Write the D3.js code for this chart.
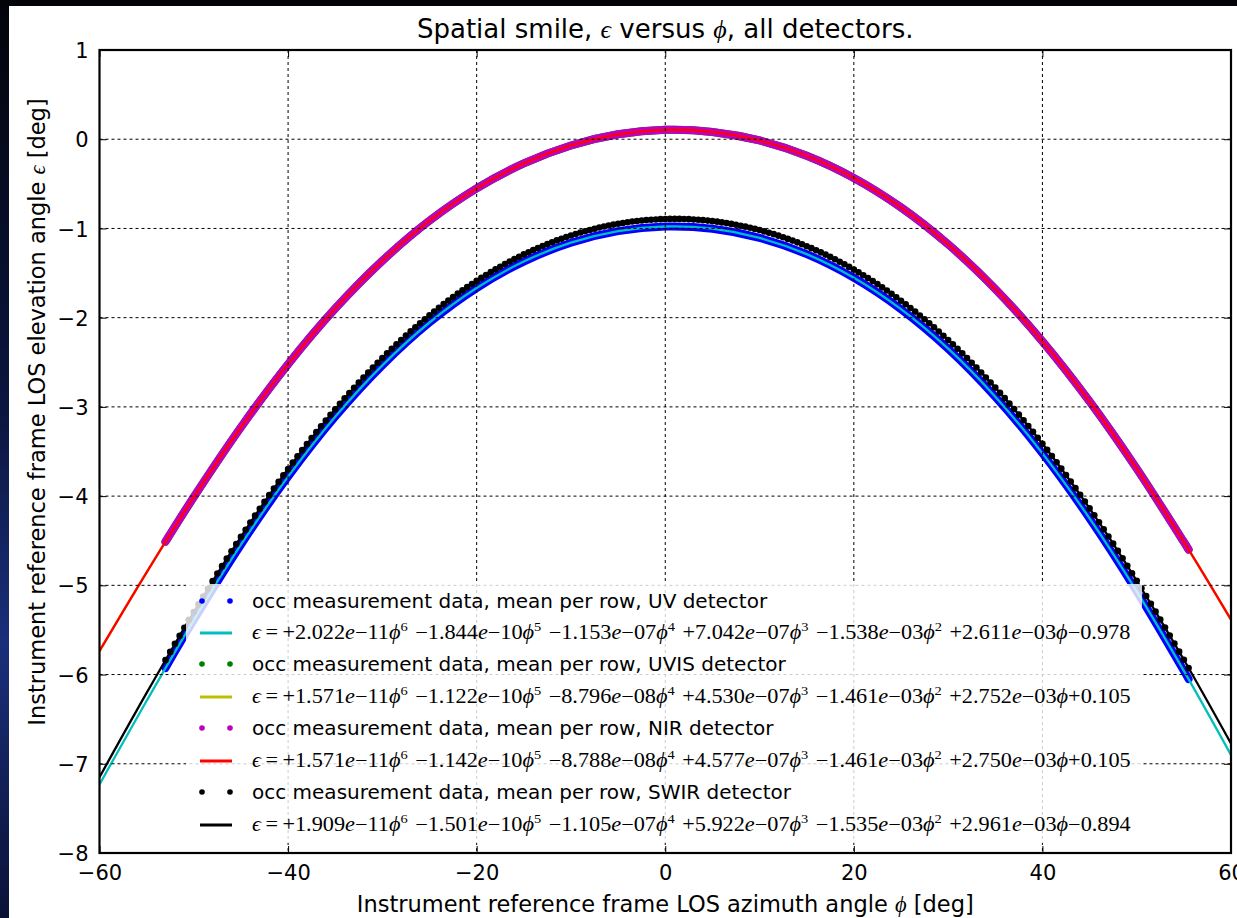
<!DOCTYPE html>
<html><head><meta charset="utf-8">
<script src="https://cdn.jsdelivr.net/npm/d3@7"></script>
<style>body{margin:0;background:#000}svg{display:block}</style>
</head><body>
<svg id="chart" width="1237" height="918"></svg>
<script>
// ---------------- data ----------------
const fitPhi = [-60,-55,-50,-45,-40,-35,-30,-25,-20,-15,-10,-5,0,5,10,15,20,25,30,35,40,45,50,55,60];
const uvFit   = [-7.231,-6.294,-5.389,-4.545,-3.782,-3.110,-2.534,-2.054,-1.668,-1.371,-1.160,-1.030,-0.978,-1.003,-1.106,-1.288,-1.553,-1.905,-2.348,-2.886,-3.521,-4.250,-5.067,-5.958,-6.900];
const uvisFit = [-5.737,-4.855,-4.011,-3.228,-2.521,-1.898,-1.362,-0.913,-0.551,-0.271,-0.070,0.055,0.105,0.082,-0.014,-0.185,-0.434,-0.764,-1.178,-1.678,-2.266,-2.939,-3.692,-4.514,-5.386];
const nirFit  = [-5.736,-4.854,-4.010,-3.228,-2.521,-1.898,-1.362,-0.913,-0.551,-0.271,-0.070,0.055,0.105,0.082,-0.014,-0.185,-0.434,-0.764,-1.178,-1.678,-2.266,-2.939,-3.692,-4.514,-5.386];
const swirFit = [-7.150,-6.206,-5.299,-4.457,-3.696,-3.026,-2.452,-1.974,-1.588,-1.291,-1.079,-0.947,-0.894,-0.918,-1.018,-1.199,-1.461,-1.810,-2.250,-2.784,-3.414,-4.138,-4.949,-5.834,-6.773];

const dataPhi  = [-53,-50,-45,-40,-35,-30,-25,-20,-15,-10,-5,0,5,10,15,20,25,30,35,40,45,50,55,55.5];
const uvData   = [-5.926,-5.389,-4.545,-3.782,-3.110,-2.534,-2.054,-1.668,-1.371,-1.160,-1.030,-0.978,-1.003,-1.106,-1.288,-1.553,-1.905,-2.348,-2.886,-3.521,-4.250,-5.067,-5.958,-6.050];
const uvisData = [-4.511,-4.011,-3.228,-2.521,-1.898,-1.362,-0.913,-0.551,-0.271,-0.070,0.055,0.105,0.082,-0.014,-0.185,-0.434,-0.764,-1.178,-1.678,-2.266,-2.939,-3.692,-4.514,-4.599];
const nirData  = [-4.510,-4.010,-3.228,-2.521,-1.898,-1.362,-0.913,-0.551,-0.271,-0.070,0.055,0.105,0.082,-0.014,-0.185,-0.434,-0.764,-1.178,-1.678,-2.266,-2.939,-3.692,-4.514,-4.599];

const swirPhi = [
 -53,-52.5,-52,-51.5,-51,-50.5,-50,-49.5,-49,-48.5,
 -48,-47.5,-47,-46.5,-46,-45.5,-45,-44.5,-44,-43.5,
 -43,-42.5,-42,-41.5,-41,-40.5,-40,-39.5,-39,-38.5,
 -38,-37.5,-37,-36.5,-36,-35.5,-35,-34.5,-34,-33.5,
 -33,-32.5,-32,-31.5,-31,-30.5,-30,-29.5,-29,-28.5,
 -28,-27.5,-27,-26.5,-26,-25.5,-25,-24.5,-24,-23.5,
 -23,-22.5,-22,-21.5,-21,-20.5,-20,-19.5,-19,-18.5,
 -18,-17.5,-17,-16.5,-16,-15.5,-15,-14.5,-14,-13.5,
 -13,-12.5,-12,-11.5,-11,-10.5,-10,-9.5,-9,-8.5,
 -8,-7.5,-7,-6.5,-6,-5.5,-5,-4.5,-4,-3.5,
 -3,-2.5,-2,-1.5,-1,-0.5,0,0.5,1,1.5,
 2,2.5,3,3.5,4,4.5,5,5.5,6,6.5,
 7,7.5,8,8.5,9,9.5,10,10.5,11,11.5,
 12,12.5,13,13.5,14,14.5,15,15.5,16,16.5,
 17,17.5,18,18.5,19,19.5,20,20.5,21,21.5,
 22,22.5,23,23.5,24,24.5,25,25.5,26,26.5,
 27,27.5,28,28.5,29,29.5,30,30.5,31,31.5,
 32,32.5,33,33.5,34,34.5,35,35.5,36,36.5,
 37,37.5,38,38.5,39,39.5,40,40.5,41,41.5,
 42,42.5,43,43.5,44,44.5,45,45.5,46,46.5,
 47,47.5,48,48.5,49,49.5,50,50.5,51,51.5,
 52,52.5,53,53.5,54,54.5,55,55.5];
const swirData = [
 -5.837,-5.746,-5.655,-5.565,-5.476,-5.387,-5.299,-5.212,-5.125,-5.039,
 -4.953,-4.868,-4.785,-4.701,-4.619,-4.537,-4.457,-4.377,-4.297,-4.219,
 -4.142,-4.065,-3.989,-3.915,-3.841,-3.768,-3.696,-3.625,-3.554,-3.485,
 -3.417,-3.349,-3.283,-3.217,-3.153,-3.089,-3.026,-2.965,-2.904,-2.844,
 -2.785,-2.727,-2.670,-2.614,-2.559,-2.505,-2.452,-2.400,-2.349,-2.299,
 -2.250,-2.201,-2.154,-2.107,-2.062,-2.017,-1.974,-1.931,-1.889,-1.848,
 -1.808,-1.769,-1.731,-1.694,-1.658,-1.623,-1.588,-1.554,-1.522,-1.490,
 -1.459,-1.429,-1.399,-1.371,-1.344,-1.317,-1.291,-1.266,-1.242,-1.219,
 -1.196,-1.175,-1.154,-1.134,-1.115,-1.096,-1.079,-1.062,-1.046,-1.031,
 -1.017,-1.003,-0.990,-0.979,-0.967,-0.957,-0.947,-0.939,-0.931,-0.923,
 -0.917,-0.911,-0.906,-0.902,-0.899,-0.896,-0.894,-0.893,-0.893,-0.893,
 -0.894,-0.896,-0.899,-0.902,-0.907,-0.912,-0.918,-0.924,-0.932,-0.940,
 -0.949,-0.958,-0.969,-0.980,-0.992,-1.005,-1.018,-1.033,-1.048,-1.064,
 -1.081,-1.098,-1.117,-1.136,-1.156,-1.177,-1.199,-1.221,-1.244,-1.268,
 -1.293,-1.319,-1.346,-1.373,-1.402,-1.431,-1.461,-1.492,-1.524,-1.556,
 -1.590,-1.624,-1.660,-1.696,-1.733,-1.771,-1.810,-1.850,-1.891,-1.932,
 -1.975,-2.018,-2.063,-2.108,-2.155,-2.202,-2.250,-2.299,-2.349,-2.400,
 -2.452,-2.505,-2.559,-2.614,-2.670,-2.726,-2.784,-2.843,-2.902,-2.963,
 -3.024,-3.087,-3.150,-3.215,-3.280,-3.347,-3.414,-3.482,-3.551,-3.621,
 -3.692,-3.764,-3.837,-3.911,-3.985,-4.061,-4.138,-4.215,-4.293,-4.372,
 -4.452,-4.533,-4.614,-4.697,-4.780,-4.864,-4.949,-5.034,-5.120,-5.207,
 -5.295,-5.383,-5.472,-5.562,-5.652,-5.743,-5.834,-5.926];

const xTicks = [-60,-40,-20,0,20,40,60];
const yTicks = [1,0,-1,-2,-3,-4,-5,-6,-7,-8];

const dataLabels = [
  "occ measurement data, mean per row, UV detector",
  "occ measurement data, mean per row, UVIS detector",
  "occ measurement data, mean per row, NIR detector",
  "occ measurement data, mean per row, SWIR detector"];
const uvCoef   = [["+2.022","11",6],["−1.844","10",5],["−1.153","07",4],["+7.042","07",3],["−1.538","03",2],["+2.611","03",1]];
const uvisCoef = [["+1.571","11",6],["−1.122","10",5],["−8.796","08",4],["+4.530","07",3],["−1.461","03",2],["+2.752","03",1]];
const nirCoef  = [["+1.571","11",6],["−1.142","10",5],["−8.788","08",4],["+4.577","07",3],["−1.461","03",2],["+2.750","03",1]];
const swirCoef = [["+1.909","11",6],["−1.501","10",5],["−1.105","07",4],["+5.922","07",3],["−1.535","03",2],["+2.961","03",1]];
const constTerms = ["−0.978","+0.105","+0.105","−0.894"];

// ---------------- layout ----------------
const svg = d3.select("#chart");
const W = 1237, H = 918;
const L = 99.5, R = 1231, T = 50, B = 853;
const x = d3.scaleLinear().domain([-60,60]).range([L,R]);
const y = d3.scaleLinear().domain([-8,1]).range([B,T]);
const SANS = "'DejaVu Sans', Verdana, sans-serif";
const SERIF = "'Liberation Serif', 'DejaVu Serif', serif";

const defs = svg.append("defs");
const grad = defs.append("linearGradient").attr("id","bg").attr("x1",0).attr("y1",0).attr("x2",0).attr("y2",1);
grad.append("stop").attr("offset","0%").attr("stop-color","#03040a");
grad.append("stop").attr("offset","45%").attr("stop-color","#0b1640");
grad.append("stop").attr("offset","70%").attr("stop-color","#1a2f7a");
grad.append("stop").attr("offset","100%").attr("stop-color","#0a1236");
defs.append("clipPath").attr("id","clip").append("rect").attr("x",L).attr("y",T).attr("width",R-L).attr("height",B-T);

svg.append("rect").attr("width",W).attr("height",H).attr("fill","url(#bg)");
svg.append("rect").attr("x",9).attr("y",6).attr("width",W-9).attr("height",H-6).attr("fill","#fff");

// title
const title = svg.append("text").attr("x",(L+R)/2).attr("y",38).attr("text-anchor","middle")
  .attr("font-family",SANS).attr("font-size",26).attr("fill","#000");
title.append("tspan").text("Spatial smile, ");
title.append("tspan").attr("font-family",SERIF).attr("font-style","italic").text("ϵ");
title.append("tspan").text(" versus ");
title.append("tspan").attr("font-family",SERIF).attr("font-style","italic").text("ϕ");
title.append("tspan").text(", all detectors.");

// ---------------- plot content ----------------
const plot = svg.append("g").attr("clip-path","url(#clip)");
const curve = d3.curveCatmullRom.alpha(0.5);
const lineGen = d3.line().x(d => x(d[0])).y(d => y(d[1])).curve(curve);
const zipPts = (xs, ys) => xs.map((v,i) => [v, ys[i]]);

function band(vals, color){
  plot.append("path").datum(zipPts(dataPhi, vals)).attr("d", lineGen)
    .attr("fill","none").attr("stroke",color).attr("stroke-width",8).attr("stroke-linecap","round");
}
function fit(vals, color){
  plot.append("path").datum(zipPts(fitPhi, vals)).attr("d", lineGen)
    .attr("fill","none").attr("stroke",color).attr("stroke-width",2.3);
}
band(uvData, "#0000ff");
fit(uvFit, "#00bfbf");
band(uvisData, "#008000");
fit(uvisFit, "#bfbf00");
band(nirData, "#bf00bf");
fit(nirFit, "#ff0000");
plot.append("g").selectAll("circle").data(zipPts(swirPhi, swirData)).join("circle")
  .attr("cx", d => x(d[0])).attr("cy", d => y(d[1])).attr("r",3.3).attr("fill","#000");
fit(swirFit, "#000");

// grid
const grid = svg.append("g").attr("stroke","#000").attr("stroke-width",1).attr("stroke-dasharray","3,3");
grid.selectAll(".gx").data(xTicks.filter(v => v>-60 && v<60)).join("line")
  .attr("x1", d => x(d)).attr("x2", d => x(d)).attr("y1",T).attr("y2",B);
grid.selectAll(".gy").data(yTicks.filter(v => v>-8 && v<1)).join("line")
  .attr("y1", d => y(d)).attr("y2", d => y(d)).attr("x1",L).attr("x2",R);

// axes
function styleAxis(g){
  g.select(".domain").remove();
  g.selectAll(".tick line").attr("stroke","#000").attr("stroke-width",1);
  g.selectAll("text").attr("font-family",SANS).attr("font-size",21).attr("fill","#000");
}
svg.append("g").attr("transform",`translate(0,${B})`)
  .call(d3.axisBottom(x).tickValues(xTicks).tickSizeInner(-7).tickSizeOuter(0).tickPadding(12)).call(styleAxis);
svg.append("g").attr("transform",`translate(0,${T})`)
  .call(d3.axisTop(x).tickValues(xTicks).tickSizeInner(-7).tickSizeOuter(0).tickFormat("")).call(styleAxis);
const gy = svg.append("g").attr("transform",`translate(${L},0)`)
  .call(d3.axisLeft(y).tickValues(yTicks).tickSizeInner(-7).tickSizeOuter(0).tickPadding(11)).call(styleAxis);
gy.selectAll("text").attr("dy","0.36em");
svg.append("g").attr("transform",`translate(${R},0)`)
  .call(d3.axisRight(y).tickValues(yTicks).tickSizeInner(-7).tickSizeOuter(0).tickFormat("")).call(styleAxis);

// frame
svg.append("rect").attr("x",L).attr("y",T).attr("width",R-L).attr("height",B-T)
  .attr("fill","none").attr("stroke","#000").attr("stroke-width",2.2);

// axis labels
const xl = svg.append("text").attr("x",(L+R)/2).attr("y",912).attr("text-anchor","middle")
  .attr("font-family",SANS).attr("font-size",22.5).attr("fill","#000");
xl.append("tspan").text("Instrument reference frame LOS azimuth angle ");
xl.append("tspan").attr("font-family",SERIF).attr("font-style","italic").text("ϕ");
xl.append("tspan").text(" [deg]");
const yl = svg.append("text").attr("transform","translate(45,412) rotate(-90)").attr("text-anchor","middle")
  .attr("font-family",SANS).attr("font-size",22.5).attr("fill","#000");
yl.append("tspan").text("Instrument reference frame LOS elevation angle ");
yl.append("tspan").attr("font-family",SERIF).attr("font-style","italic").text("ϵ");
yl.append("tspan").text(" [deg]");

// ---------------- legend ----------------
const leg = svg.append("g");
leg.append("rect").attr("x",186).attr("y",584).attr("width",956).attr("height",259)
  .attr("fill","#fff").attr("fill-opacity",0.8);
const rowY = [601,633,664,697,728,761,792,825];
const dataColors = ["#0000ff","#008000","#bf00bf","#000"];
const fitColors = ["#00bfbf","#bfbf00","#ff0000","#000"];
const coefs = [uvCoef, uvisCoef, nirCoef, swirCoef];
const TX = 252, TEND = 1131;

function equation(yy, cf, cst){
  const t = leg.append("text").attr("x",TX).attr("y",yy+6).attr("font-family",SERIF)
    .attr("font-size",20).attr("fill","#000");
  t.append("tspan").attr("font-style","italic").text("ϵ");
  t.append("tspan").text("\u2009=\u2009");
  cf.forEach((c,i) => {
    t.append("tspan").text((i ? "\u00a0" : "") + c[0]);
    t.append("tspan").attr("font-style","italic").text("e");
    t.append("tspan").text("−" + c[1]);
    t.append("tspan").attr("font-style","italic").text("ϕ");
    if (c[2] > 1) {
      t.append("tspan").attr("dy",-8).attr("font-size",13).text(c[2]);
      t.append("tspan").attr("dy",8).text("\u200a");
    }
  });
  t.append("tspan").text(cst[0] + cst.slice(1));
  const w = t.node().getBBox().width;
  const s = (TEND - TX) / w;
  t.attr("transform", `translate(${TX},0) scale(${s},1) translate(${-TX},0)`);
}

for (let k = 0; k < 4; k++) {
  const yd = rowY[2*k], yf = rowY[2*k+1];
  leg.selectAll(null).data([202,230]).join("circle").attr("cx", d => d).attr("cy", yd).attr("r",2.8).attr("fill",dataColors[k]);
  leg.append("text").attr("x",TX).attr("y",yd+7).attr("font-family",SANS).attr("font-size",20).attr("fill","#000").text(dataLabels[k]);
  leg.append("line").attr("x1",200).attr("x2",232).attr("y1",yf).attr("y2",yf).attr("stroke",fitColors[k]).attr("stroke-width",3);
  equation(yf, coefs[k], constTerms[k]);
}
</script>
</body></html>
